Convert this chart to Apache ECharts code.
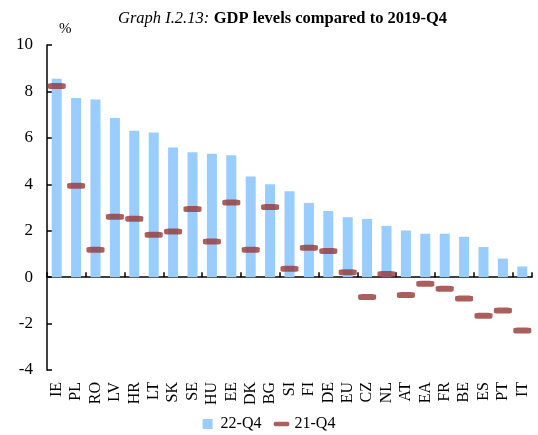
<!DOCTYPE html>
<html>
<head>
<meta charset="utf-8">
<script src="https://cdn.jsdelivr.net/npm/echarts@6/dist/echarts.min.js"></script>
<style>
  html, body { margin: 0; padding: 0; background: #fff; }
  #chart { width: 538px; height: 435px; }
</style>
</head>
<body>
<div id="chart"></div>
<script>
// countries, sorted by 22-Q4 level
var countries = ['IE', 'PL', 'RO', 'LV', 'HR', 'LT', 'SK', 'SE', 'HU', 'EE', 'DK', 'BG', 'SI',
    'FI', 'DE', 'EU', 'CZ', 'NL', 'AT', 'EA', 'FR', 'BE', 'ES', 'PT', 'IT'];
// GDP level vs 2019-Q4, %
var q4_22 = [8.55, 7.72, 7.65, 6.86, 6.31, 6.23, 5.59, 5.38, 5.32, 5.25, 4.34, 4.0, 3.7,
    3.2, 2.85, 2.58, 2.51, 2.21, 2.01, 1.87, 1.87, 1.74, 1.3, 0.8, 0.46];
var q4_21 = [8.23, 3.94, 1.18, 2.6, 2.52, 1.83, 1.97, 2.94, 1.54, 3.22, 1.18, 3.02, 0.36,
    1.27, 1.13, 0.21, -0.86, 0.14, -0.77, -0.28, -0.5, -0.92, -1.66, -1.44, -2.3];
var yTicks = [-4, -2, 0, 2, 4, 6, 8, 10];

var font = 'Liberation Serif';
var chart = echarts.init(document.getElementById('chart'));

var option = {
    backgroundColor: '#fff',
    textStyle: { fontFamily: font },
    title: {
        text: '{i|Graph I.2.13:} {b|GDP levels compared to 2019-Q4}',
        left: 113,
        top: 5,
        textStyle: {
            fontWeight: 'normal',
            rich: {
                i: { fontFamily: font, fontStyle: 'italic', fontWeight: 'normal', fontSize: 16.5, color: '#000' },
                b: { fontFamily: font, fontWeight: 'bold', fontSize: 16.5, color: '#000' }
            }
        }
    },
    legend: {
        bottom: -2,
        left: 'center',
        itemGap: 12,
        symbolKeepAspect: true,
        itemWidth: 16,
        itemHeight: 10,
        textStyle: { fontFamily: font, fontSize: 16, color: '#000' },
        data: [
            { name: '22-Q4', icon: 'path://M0,0H10V10H0Z' },
            { name: '21-Q4', icon: 'path://M2,0H14A2,2,0,0,1,14,5H2A2,2,0,0,1,2,0Z' }
        ]
    },
    grid: { left: 47, right: 6, top: 45, bottom: 65, containLabel: false },
    xAxis: [{
        type: 'category',
        data: countries,
        position: 'bottom',
        axisLine: { show: false, onZero: false },
        axisTick: { show: false },
        axisLabel: {
            rotate: 90,
            interval: 0,
            margin: 12,
            fontFamily: font,
            fontSize: 16,
            color: '#000'
        }
    }, {
        type: 'category',
        data: countries,
        position: 'bottom',
        axisLine: { show: true, onZero: true, lineStyle: { color: '#000', width: 1.5 } },
        axisTick: { show: true, inside: true, length: 5, lineStyle: { color: '#000', width: 1.5 } },
        axisLabel: { show: false }
    }],
    yAxis: {
        type: 'value',
        min: yTicks[0],
        max: yTicks[yTicks.length - 1],
        interval: 2,
        name: '%',
        nameLocation: 'end',
        nameGap: 0,
        nameTextStyle: { fontFamily: font, fontSize: 15, color: '#000', align: 'left', padding: [0, 0, 8, 12] },
        splitLine: { show: false },
        axisLine: { show: true, lineStyle: { color: '#000', width: 1.5 } },
        axisTick: { show: true, inside: true, length: 5, lineStyle: { color: '#000', width: 1.5 } },
        axisLabel: { fontFamily: font, fontSize: 17, color: '#000', margin: 14 }
    },
    series: [{
        name: '22-Q4',
        type: 'bar',
        data: q4_22,
        barWidth: 10,
        itemStyle: { color: '#99CCFF' }
    }, {
        name: '21-Q4',
        type: 'scatter',
        data: q4_21,
        symbol: 'roundRect',
        symbolSize: [18, 6],
        itemStyle: { color: '#953735' },
        z: 5
    }]
};
chart.setOption(option);
</script>
</body>
</html>
